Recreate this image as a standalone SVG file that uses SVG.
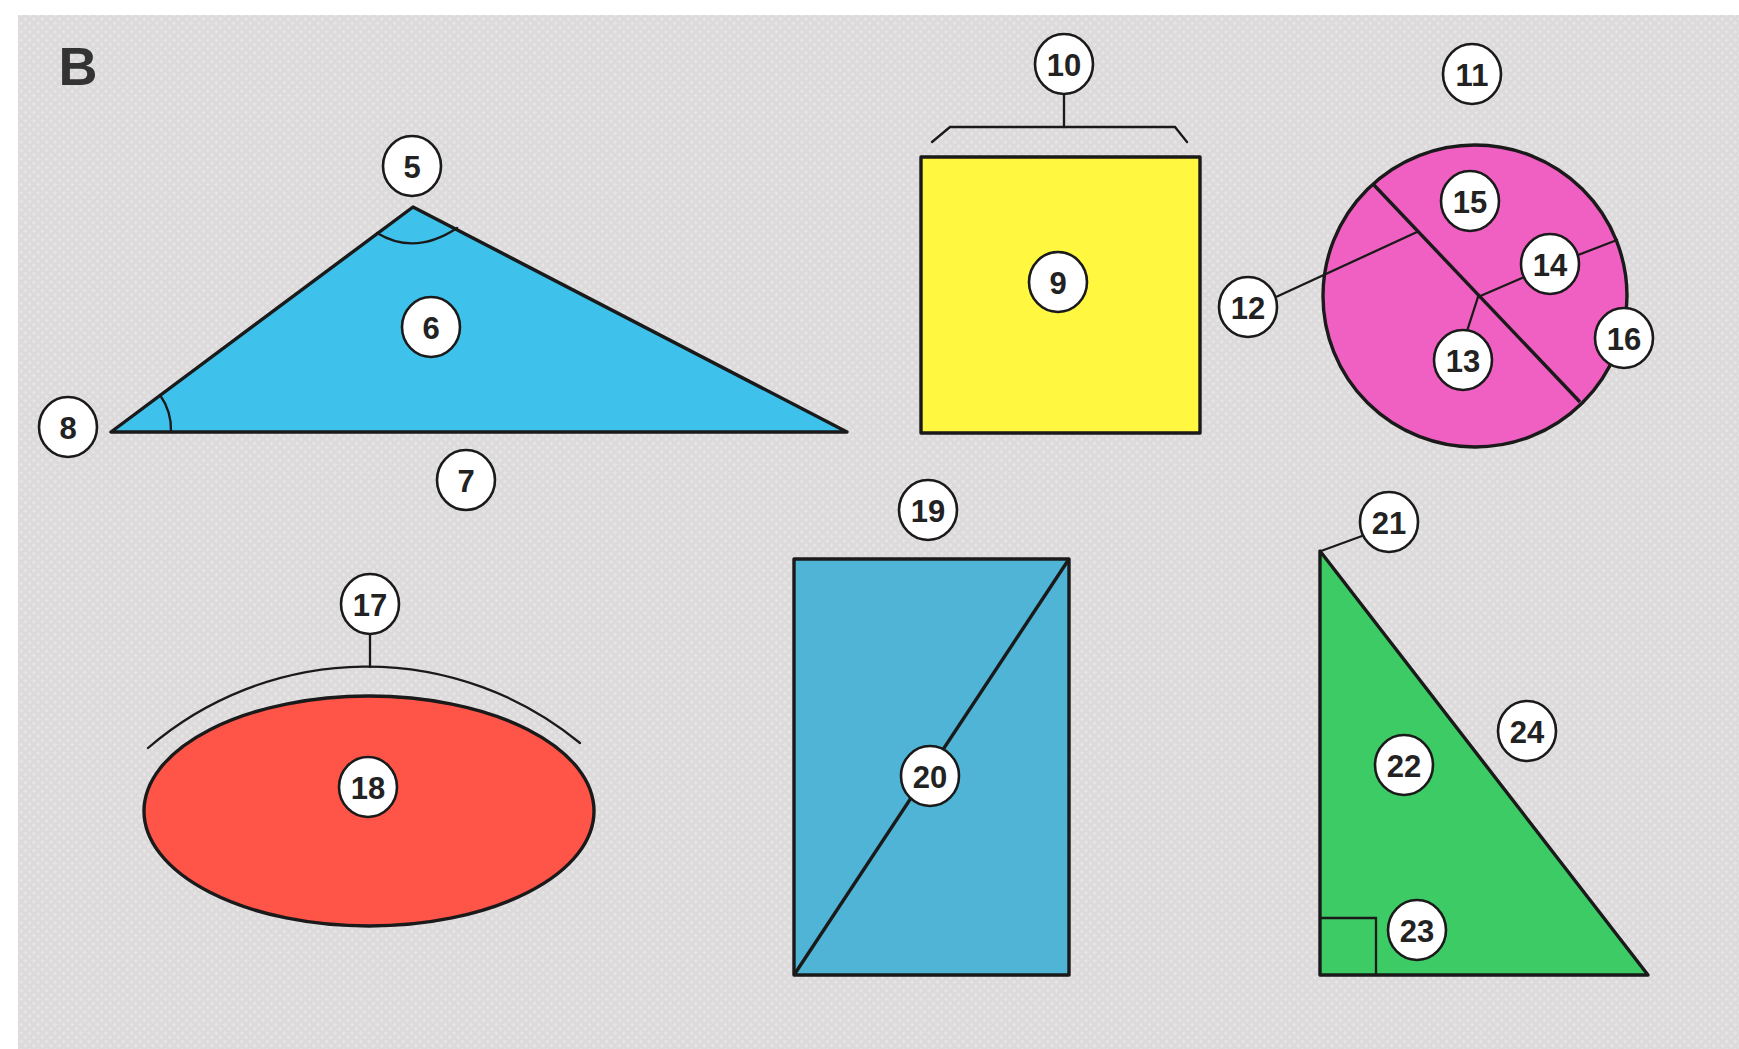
<svg xmlns="http://www.w3.org/2000/svg" width="1739" height="1049" viewBox="0 0 1739 1049">
<style>
.shape{stroke:#1a1a1a;stroke-width:3.4;stroke-linejoin:round}
.line{stroke:#1a1a1a;stroke-width:2.3;fill:none;stroke-linecap:round}
.badge{fill:#ffffff;stroke:#1a1a1a;stroke-width:2.6}
.num{font-family:"Liberation Sans",Arial,sans-serif;font-weight:bold;font-size:31px;fill:#222;text-anchor:middle;dominant-baseline:central}
</style>
<defs>
<pattern id="tex" width="6" height="6" patternUnits="userSpaceOnUse" patternTransform="rotate(45)">
<rect width="6" height="6" fill="#dcdada"/>
<rect width="3" height="3" fill="#e6e4e4"/>
</pattern>
</defs>
<rect x="0" y="0" width="1739" height="1049" fill="#ffffff"/>
<rect x="18" y="15" width="1721" height="1034" fill="url(#tex)"/>
<text x="78" y="66" font-family="Liberation Sans,Arial,sans-serif" font-weight="bold" font-size="54" fill="#333" text-anchor="middle" dominant-baseline="central">B</text>

<g id="shapes">
<g id="triangle-obtuse">
<polygon class="shape" points="413,207 111,432 847,432" fill="#3ec2ec"/>
<path class="line" d="M377,233 Q415,256 457,228"/>
<path class="line" d="M160,395 A60,60 0 0 1 171,432"/>
</g>
<g id="square">
<rect class="shape" x="921" y="157" width="279" height="276" fill="#fff740"/>
</g>
<g id="circle">
<ellipse class="shape" cx="1475" cy="296" rx="152" ry="151" fill="#f060c2"/>
<line class="shape" x1="1373" y1="184" x2="1580" y2="402"/>
</g>
<g id="ellipse">
<ellipse class="shape" cx="369" cy="811" rx="225" ry="115" fill="#ff5448"/>
<path class="line" d="M148,748 A335,335 0 0 1 580,743"/>
</g>
<g id="rectangle">
<rect class="shape" x="794" y="559" width="275" height="416" fill="#50b4d6"/>
<line class="shape" x1="794" y1="975" x2="1069" y2="559"/>
</g>
<g id="triangle-right">
<polygon class="shape" points="1320,551 1320,975 1648,975" fill="#3ccb64"/>
<polyline class="line" points="1320,918 1376,918 1376,975"/>
</g>
</g>

<g id="connectors">
<line class="line" x1="1064" y1="94" x2="1064" y2="127"/>
<polyline class="line" points="932,142 950,127 1175,127 1187,142"/>
<line class="line" x1="1276" y1="297" x2="1417" y2="232"/>
<line class="line" x1="1522" y1="278" x2="1478" y2="297"/>
<line class="line" x1="1478" y1="297" x2="1467" y2="331"/>
<line class="line" x1="1578" y1="255" x2="1617" y2="240"/>
<line class="line" x1="370" y1="633" x2="370" y2="667"/>
<line class="line" x1="1362" y1="536" x2="1321" y2="551"/>
</g>

<g id="n5"><ellipse class="badge" cx="412" cy="166" rx="29" ry="30"/><text class="num" x="412" y="167">5</text></g>
<g id="n6"><ellipse class="badge" cx="431" cy="327" rx="29" ry="30"/><text class="num" x="431" y="328">6</text></g>
<g id="n7"><ellipse class="badge" cx="466" cy="480" rx="29" ry="30"/><text class="num" x="466" y="481">7</text></g>
<g id="n8"><ellipse class="badge" cx="68" cy="427" rx="29" ry="30"/><text class="num" x="68" y="428">8</text></g>
<g id="n9"><ellipse class="badge" cx="1058" cy="282" rx="29" ry="30"/><text class="num" x="1058" y="283">9</text></g>
<g id="n10"><ellipse class="badge" cx="1064" cy="64" rx="29" ry="30"/><text class="num" x="1064" y="65">10</text></g>
<g id="n11"><ellipse class="badge" cx="1472" cy="74" rx="29" ry="30"/><text class="num" x="1472" y="75">11</text></g>
<g id="n12"><ellipse class="badge" cx="1248" cy="307" rx="29" ry="30"/><text class="num" x="1248" y="308">12</text></g>
<g id="n13"><ellipse class="badge" cx="1463" cy="360" rx="29" ry="30"/><text class="num" x="1463" y="361">13</text></g>
<g id="n14"><ellipse class="badge" cx="1550" cy="264" rx="29" ry="30"/><text class="num" x="1550" y="265">14</text></g>
<g id="n15"><ellipse class="badge" cx="1470" cy="201" rx="29" ry="30"/><text class="num" x="1470" y="202">15</text></g>
<g id="n16"><ellipse class="badge" cx="1624" cy="338" rx="29" ry="30"/><text class="num" x="1624" y="339">16</text></g>
<g id="n17"><ellipse class="badge" cx="370" cy="604" rx="29" ry="30"/><text class="num" x="370" y="605">17</text></g>
<g id="n18"><ellipse class="badge" cx="368" cy="787" rx="29" ry="30"/><text class="num" x="368" y="788">18</text></g>
<g id="n19"><ellipse class="badge" cx="928" cy="510" rx="29" ry="30"/><text class="num" x="928" y="511">19</text></g>
<g id="n20"><ellipse class="badge" cx="930" cy="776" rx="29" ry="30"/><text class="num" x="930" y="777">20</text></g>
<g id="n21"><ellipse class="badge" cx="1389" cy="522" rx="29" ry="30"/><text class="num" x="1389" y="523">21</text></g>
<g id="n22"><ellipse class="badge" cx="1404" cy="765" rx="29" ry="30"/><text class="num" x="1404" y="766">22</text></g>
<g id="n23"><ellipse class="badge" cx="1417" cy="930" rx="29" ry="30"/><text class="num" x="1417" y="931">23</text></g>
<g id="n24"><ellipse class="badge" cx="1527" cy="731" rx="29" ry="30"/><text class="num" x="1527" y="732">24</text></g>
</svg>
